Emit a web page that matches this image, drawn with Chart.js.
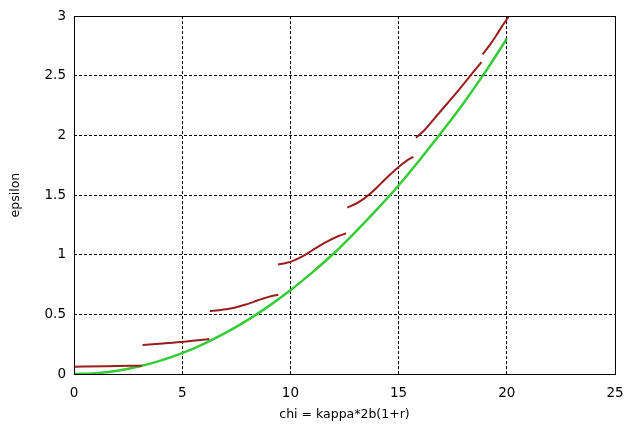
<!DOCTYPE html>
<html>
<head>
<meta charset="utf-8">
<script src="https://cdn.jsdelivr.net/npm/chart.js@4.4.1/dist/chart.umd.min.js"></script>
<style>
  html, body { margin: 0; padding: 0; background: #fff; }
  #wrap { width: 640px; height: 425px; }
</style>
</head>
<body>
<div id="wrap"><canvas id="plot" width="640" height="425"></canvas></div>
<script>
// green curve
const chiGreen = [0, 1, 2, 3, 4, 5, 6, 7, 8, 9, 10, 11, 12, 13, 14, 15, 16, 17, 18, 19, 20];
const epsGreen = [0, 0.007, 0.028, 0.063, 0.112, 0.175, 0.253, 0.344, 0.449, 0.569, 0.702,
                  0.85, 1.01, 1.19, 1.38, 1.58, 1.80, 2.03, 2.27, 2.53, 2.81];

// red branches, one per interval
const chiRed1 = [0, 1.5, 3.13];
const epsRed1 = [0.061, 0.066, 0.07];
const chiRed2 = [3.17, 4.1, 5.05, 6.25];
const epsRed2 = [0.243, 0.256, 0.27, 0.293];
const chiRed3 = [6.28, 6.7, 7.1, 7.5, 7.9, 8.3, 8.7, 9.1, 9.44];
const epsRed3 = [0.528, 0.535, 0.545, 0.56, 0.58, 0.605, 0.63, 0.652, 0.664];
const chiRed4 = [9.43, 9.8, 10.2, 10.6, 11.0, 11.4, 11.8, 12.2, 12.57];
const epsRed4 = [0.918, 0.93, 0.955, 0.99, 1.035, 1.08, 1.12, 1.155, 1.178];
const chiRed5 = [12.63, 13.0, 13.4, 13.8, 14.2, 14.6, 15.0, 15.35, 15.68];
const epsRed5 = [1.396, 1.425, 1.47, 1.53, 1.6, 1.67, 1.736, 1.785, 1.82];
const chiRed6 = [15.8, 16.2, 16.6, 17.0, 17.5, 18.0, 18.4, 18.83];
const epsRed6 = [1.98, 2.045, 2.13, 2.215, 2.32, 2.43, 2.52, 2.615];
const chiRed7 = [18.88, 19.2, 19.52, 19.8, 20.1];
const epsRed7 = [2.68, 2.755, 2.84, 2.92, 3.0];

const xTicks = [0, 5, 10, 15, 20, 25];
const yTicks = [0, 0.5, 1, 1.5, 2, 2.5, 3];

function pts(xs, ys) {
    return xs.map((x, i) => ({ x: x, y: ys[i] }));
}

const redSets = [
    [chiRed1, epsRed1], [chiRed2, epsRed2], [chiRed3, epsRed3], [chiRed4, epsRed4],
    [chiRed5, epsRed5], [chiRed6, epsRed6], [chiRed7, epsRed7]
].map(function(s) {
    return {
        data: pts(s[0], s[1]),
        borderColor: '#9a1d1d',
        borderWidth: 2,
        pointRadius: 0,
        cubicInterpolationMode: 'monotone',
        fill: false
    };
});

// frame round the plot area
const frame = {
    id: 'frame',
    afterDraw(chart) {
        const a = chart.chartArea;
        const ctx = chart.ctx;
        ctx.save();
        ctx.strokeStyle = '#000';
        ctx.lineWidth = 1;
        ctx.setLineDash([]);
        ctx.strokeRect(Math.round(a.left) + 0.5, Math.round(a.top) + 0.5,
                       Math.round(a.right - a.left), Math.round(a.bottom - a.top));
        ctx.restore();
    }
};

const tickFont = { family: 'DejaVu Sans', size: 13.5 };
const titleFont = { family: 'DejaVu Sans', size: 12.5 };

new Chart(document.getElementById('plot').getContext('2d'), {
    type: 'line',
    data: {
        datasets: redSets.concat([{
            data: pts(chiGreen, epsGreen),
            borderColor: '#36cc36',
            borderWidth: 2.5,
            pointRadius: 0,
            cubicInterpolationMode: 'monotone',
            fill: false
        }])
    },
    options: {
        responsive: false,
        animation: false,
        layout: { padding: { left: 0, right: 25, top: 16, bottom: 0 } },
        plugins: { legend: { display: false }, tooltip: { enabled: false } },
        scales: {
            x: {
                type: 'linear',
                min: 0,
                max: 25,
                afterBuildTicks: function(scale) { scale.ticks = xTicks.map(v => ({ value: v })); },
                afterFit: function(scale) { scale.height = 51; },
                grid: { color: '#000', lineWidth: 1, drawTicks: false },
                border: { display: false, dash: [3, 2] },
                ticks: { color: '#000', font: tickFont, padding: 11, maxRotation: 0,
                         callback: v => String(v) },
                title: { display: true, text: 'chi = kappa*2b(1+r)', color: '#000', font: titleFont, padding: { top: 0, bottom: 3 } }
            },
            y: {
                type: 'linear',
                min: 0,
                max: 3,
                afterBuildTicks: function(scale) { scale.ticks = yTicks.map(v => ({ value: v })); },
                afterFit: function(scale) { scale.width = 74; },
                grid: { color: '#000', lineWidth: 1, drawTicks: false },
                border: { display: false, dash: [3, 2] },
                ticks: { color: '#000', font: tickFont, padding: 8,
                         callback: v => String(v) },
                title: { display: true, text: 'epsilon', color: '#000', font: titleFont, padding: { top: 8, bottom: 0 } }
            }
        }
    },
    plugins: [frame]
});
</script>
</body>
</html>
